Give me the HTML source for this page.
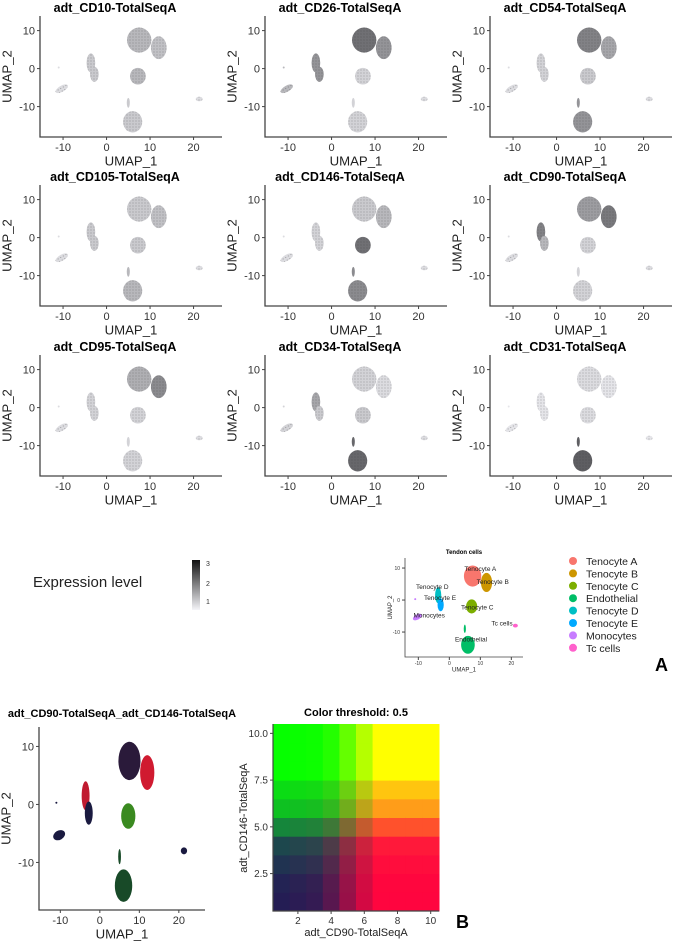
<!DOCTYPE html>
<html><head><meta charset="utf-8"><style>
body{margin:0;background:#fff}
svg{display:block;font-family:"Liberation Sans",Arial,sans-serif}
</style></head><body>
<svg id="fig" width="676" height="942" viewBox="0 0 676 942" xmlns="http://www.w3.org/2000/svg">
<defs>
<pattern id="stip" width="3" height="3" patternUnits="userSpaceOnUse"><circle cx="1" cy="1" r="0.55" fill="#333" opacity="0.45"/></pattern>
<linearGradient id="expr" x1="0" y1="1" x2="0" y2="0"><stop offset="0" stop-color="#f4f4f8"/><stop offset="1" stop-color="#111"/></linearGradient>
</defs>
<g id="root"></g>
</svg>
<script>
// ---- data ----
const markers = ["adt_CD10-TotalSeqA","adt_CD26-TotalSeqA","adt_CD54-TotalSeqA","adt_CD105-TotalSeqA","adt_CD146-TotalSeqA","adt_CD90-TotalSeqA","adt_CD95-TotalSeqA","adt_CD34-TotalSeqA","adt_CD31-TotalSeqA"];
const clusterNames = ["Tenocyte A","Tenocyte B","Tenocyte C","Endothelial","Tenocyte D","Tenocyte E","Monocytes","Tc cells"];
const clusterColors = ["#f8766d","#cd9600","#7cae00","#00be67","#00bfc4","#00a9ff","#c77cff","#ff61cc"];
const clusterX = [7.5,12,7.2,6,-3.6,-2.8,-10.3,21.3];
const clusterY = [7.5,5.5,-2,-14,1.5,-1.5,-5.3,-8];
const clusterRX = [2.8,1.8,1.8,2.2,1,1,1.6,0.8];
const clusterRY = [3.3,3,2.2,2.8,2.5,2,0.8,0.6];
// expression darkness per marker per cluster (A,B,C,Endo,D,E,Mono,Tc)
const expr = [
 [0.30,0.25,0.30,0.20,0.20,0.20,0.10,0.10],
 [0.70,0.50,0.15,0.15,0.50,0.50,0.30,0.10],
 [0.60,0.40,0.20,0.50,0.15,0.15,0.10,0.10],
 [0.20,0.25,0.20,0.30,0.20,0.20,0.10,0.10],
 [0.20,0.30,0.70,0.55,0.15,0.15,0.10,0.10],
 [0.45,0.65,0.15,0.15,0.60,0.30,0.10,0.10],
 [0.35,0.55,0.15,0.15,0.15,0.15,0.10,0.10],
 [0.15,0.10,0.20,0.75,0.40,0.20,0.15,0.10],
 [0.10,0.05,0.10,0.80,0.05,0.05,0.05,0.05]
];
const blendColors = ["#2a1a3a","#d01a30","#3a8a20","#184a28","#c01a30","#1a1a40","#1a1a40","#1a1a40"];
const umapXTicks = [-10,0,10,20];
const umapYTicks = [-10,0,10];
const redLevels = [40,48,58,96,160,215,255,255,255,255];
const greenLevels = [34,40,58,80,144,200,224,255,255,255];
const heatXTicks = [2,4,6,8,10];
const heatYTicks = ["2.5","5.0","7.5","10.0"];
const legendNames = clusterNames;

// ---- helpers ----
const NS="http://www.w3.org/2000/svg";
const root=document.getElementById('root');
function el(tag,attrs,parent,text){const e=document.createElementNS(NS,tag);for(const k in attrs)e.setAttribute(k,attrs[k]);if(text!==undefined)e.textContent=text;(parent||root).appendChild(e);return e;}
function gray(v){const c=Math.round(238-v*180);return `rgb(${c},${c},${c+4})`;}

function umapPanel(ox,oy,cfg){
  const g=el('g',{transform:`translate(${ox},${oy})`});
  
  
  const sx=v=>cfg.x0+(v-cfg.xmin)*cfg.kx;
  const sy=v=>cfg.y0-(v-cfg.ymin)*cfg.ky;
  const t=el('text',{x:cfg.tx,y:cfg.ty,'text-anchor':'middle','font-size':cfg.tfs||12.5,'font-weight':'bold'},g,cfg.title);
  
  
  for(let i=0;i<clusterX.length;i++){
    const tr=i==6?`rotate(-30 ${sx(clusterX[i])} ${sy(clusterY[i])})`:'';
    const e=el('ellipse',{cx:sx(clusterX[i]),cy:sy(clusterY[i]),rx:clusterRX[i]*cfg.kx,ry:clusterRY[i]*cfg.ky,fill:cfg.fill(i),transform:tr},g);
    
    
    if(cfg.stip) el('ellipse',{cx:sx(clusterX[i]),cy:sy(clusterY[i]),rx:clusterRX[i]*cfg.kx,ry:clusterRY[i]*cfg.ky,fill:'url(#stip)',transform:tr},g);
  }
  el('ellipse',{cx:sx(5),cy:sy(-9),rx:0.35*cfg.kx,ry:1.3*cfg.ky,fill:cfg.fill(3)},g);
  el('circle',{cx:sx(-11),cy:sy(0.3),r:1,fill:cfg.fill(6)},g);
  const ax=el('path',{d:`M${cfg.x0} ${cfg.ytop}V${cfg.y0}H${cfg.xright}`,stroke:'#444',fill:'none','stroke-width':cfg.aw||1.3},g);
  
  
  const fs=cfg.fs||11;
  umapXTicks.forEach(v=>{el('line',{x1:sx(v),x2:sx(v),y1:cfg.y0,y2:cfg.y0+3,stroke:'#444'},g);
    el('text',{x:sx(v),y:cfg.y0+3+fs,'text-anchor':'middle','font-size':fs,fill:'#333'},g,v);});
  umapYTicks.forEach(v=>{el('line',{x1:cfg.x0-3,x2:cfg.x0,y1:sy(v),y2:sy(v),stroke:'#444'},g);
    el('text',{x:cfg.x0-5,y:sy(v)+fs*0.35,'text-anchor':'end','font-size':fs,fill:'#333'},g,v);});
  const xl=el('text',{x:(cfg.x0+cfg.xright)/2,y:cfg.y0+3+fs*2.3,'text-anchor':'middle','font-size':fs*1.2,fill:'#222'},g,'UMAP_1');
  
  
  const yx=cfg.x0-fs*2.6, yy=(cfg.ytop+cfg.y0)/2;
  const yl=el('text',{x:yx,y:yy,'text-anchor':'middle','font-size':fs*1.2,fill:'#222',transform:`rotate(-90 ${yx} ${yy})`},g,'UMAP_2');
  
  
  return {g,sx,sy};
}

const rowOff=[0,169,339];
markers.forEach((m,k)=>{
  const c=k%3,r=Math.floor(k/3);
  umapPanel(c*225,rowOff[r],{name:'feature-plot-'+m.split('_')[1].split('-')[0].toLowerCase(),title:m,tx:115,ty:12,
    x0:40,xright:222,y0:137,ytop:16,xmin:-15.3,ymin:-18,kx:4.35,ky:3.8,stip:true,fill:i=>gray(expr[k][i])});
});

el('text',{x:33,y:587,'font-size':15,fill:'#222'},root,'Expression level');
const cb=el('rect',{x:192,y:560,width:8,height:50,fill:'url(#expr)'});


[["3",563],["2",583],["1",601]].forEach(([t,y])=>el('text',{x:206,y:y+3,'font-size':7,fill:'#333'},root,t));

const mini=umapPanel(0,0,{name:'tendon-cells-umap',title:'Tendon cells',tx:464,ty:554,tfs:6,
  x0:405,xright:523,y0:657,ytop:558,xmin:-14.3,ymin:-17.8,kx:3.1,ky:3.2,fs:5,aw:0.8,fill:i=>clusterColors[i]});
const lbl=[["Tenocyte A",10,9],["Tenocyte B",14,5],["Tenocyte D",-5.5,3.5],["Tenocyte E",-3,0],["Tenocyte C",9,-3],["Monocytes",-6.5,-5.5],["Tc cells",17,-8],["Endothelial",7,-13]];
lbl.forEach(([t,x,y])=>el('text',{x:mini.sx(x),y:mini.sy(y),'text-anchor':'middle','font-size':6.5,fill:'#222'},mini.g,t));

legendNames.forEach((n,i)=>{
  const g=el('g',{});
  
  
  el('circle',{cx:573,cy:561+i*12.4,r:4,fill:clusterColors[i]},g);
  el('text',{x:586,y:565+i*12.4,'font-size':10.5,fill:'#222'},g,n);
});
el('text',{x:655,y:671,'font-size':18,'font-weight':'bold'},root,'A');

umapPanel(0,0,{name:'blend-feature-plot',title:'adt_CD90-TotalSeqA_adt_CD146-TotalSeqA',tx:122,ty:717,tfs:11,
  x0:39,xright:205,y0:910,ytop:727,xmin:-15.4,ymin:-18.2,kx:3.95,ky:5.8,fill:i=>blendColors[i]});

// heatmap
const hx0=273,hx1=439,hy0=911,hy1=724;
const hsx=v=>hx0+(v-0.5)*(hx1-hx0)/10, hsy=v=>hy0-(v-0.5)*(hy0-hy1)/10;
const hg=el('g',{});


for(let i=0;i<10;i++)for(let j=0;j<10;j++){
  const R=redLevels[i],G=greenLevels[j];
  const rn=R/255,gn=G/255;
  const r=Math.round(R*(1-gn*(1-rn)));
  const gg=Math.round(G*(1-rn*(1-gn)));
  const b=Math.round(90*(1-rn)*(1-gn*gn)+64*rn*(1-gn*gn));
  const c=el('rect',{x:hsx(i+0.5),y:hsy(j+1.5),width:(hx1-hx0)/10+0.5,height:(hy0-hy1)/10+0.5,fill:`rgb(${r},${gg},${b})`},hg);
  
  
}
el('path',{d:`M${hx0} ${hy1}V${hy0}H${hx1}`,stroke:'#444',fill:'none','stroke-width':1.2});
heatXTicks.forEach(v=>{el('line',{x1:hsx(v),x2:hsx(v),y1:hy0,y2:hy0+3,stroke:'#444'});el('text',{x:hsx(v),y:hy0+13,'text-anchor':'middle','font-size':10,fill:'#333'},root,v);});
heatYTicks.forEach(v=>{el('line',{x1:hx0-3,x2:hx0,y1:hsy(+v),y2:hsy(+v),stroke:'#444'});el('text',{x:hx0-5,y:hsy(+v)+3.5,'text-anchor':'end','font-size':10,fill:'#333'},root,v);});
el('text',{x:356,y:716,'text-anchor':'middle','font-size':11,'font-weight':'bold'},root,'Color threshold: 0.5');
el('text',{x:356,y:936,'text-anchor':'middle','font-size':11,fill:'#222'},root,'adt_CD90-TotalSeqA');
el('text',{x:247,y:818,'text-anchor':'middle','font-size':11,fill:'#222',transform:'rotate(-90 247 818)'},root,'adt_CD146-TotalSeqA');
el('text',{x:456,y:928,'font-size':18,'font-weight':'bold'},root,'B');
</script>
</body></html>
